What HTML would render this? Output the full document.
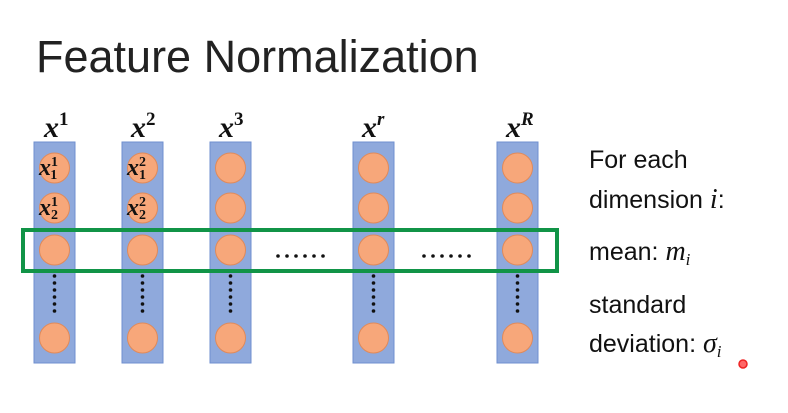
<!DOCTYPE html>
<html><head><meta charset="utf-8"><style>
body{margin:0;width:788px;height:408px;background:#fff;overflow:hidden}
</style></head><body>
<svg width="788" height="408" xmlns="http://www.w3.org/2000/svg">
<defs>
<g id="d" fill="#111"><circle cx="0" cy="276" r="1.8"/><circle cx="0" cy="283" r="1.8"/><circle cx="0" cy="290" r="1.8"/><circle cx="0" cy="297" r="1.8"/><circle cx="0" cy="304" r="1.8"/><circle cx="0" cy="311" r="1.8"/></g>
<g id="h" fill="#111"><circle cx="0" cy="256" r="1.8"/><circle cx="9" cy="256" r="1.8"/><circle cx="18" cy="256" r="1.8"/><circle cx="27" cy="256" r="1.8"/><circle cx="36" cy="256" r="1.8"/><circle cx="45" cy="256" r="1.8"/></g>
</defs>
<text x="36" y="72" font-family="Liberation Sans, sans-serif" font-size="45" fill="#222">Feature Normalization</text>
<g font-family="Liberation Serif, serif" font-style="italic" font-weight="bold" font-size="30" fill="#111">
<text x="44" y="137">x<tspan font-size="19" dy="-12" font-style="normal">1</tspan></text>
<text x="131" y="137">x<tspan font-size="19" dy="-12" font-style="normal">2</tspan></text>
<text x="219" y="137">x<tspan font-size="19" dy="-12" font-style="normal">3</tspan></text>
<text x="362" y="137">x<tspan font-size="19" dy="-12">r</tspan></text>
<text x="506" y="137">x<tspan font-size="19" dy="-12">R</tspan></text>
</g>
<g fill="#8fa9dc" stroke="#6f8fcf" stroke-width="1">
<rect x="34" y="142" width="41" height="221"/>
<rect x="122" y="142" width="41" height="221"/>
<rect x="210" y="142" width="41" height="221"/>
<rect x="353" y="142" width="41" height="221"/>
<rect x="497" y="142" width="41" height="221"/>
</g>
<g fill="#f7a77a" stroke="#e08a5a" stroke-width="1">
<circle cx="54.5" cy="168" r="15"/><circle cx="54.5" cy="208" r="15"/><circle cx="54.5" cy="250" r="15"/><circle cx="54.5" cy="338" r="15"/>
<circle cx="142.5" cy="168" r="15"/><circle cx="142.5" cy="208" r="15"/><circle cx="142.5" cy="250" r="15"/><circle cx="142.5" cy="338" r="15"/>
<circle cx="230.5" cy="168" r="15"/><circle cx="230.5" cy="208" r="15"/><circle cx="230.5" cy="250" r="15"/><circle cx="230.5" cy="338" r="15"/>
<circle cx="373.5" cy="168" r="15"/><circle cx="373.5" cy="208" r="15"/><circle cx="373.5" cy="250" r="15"/><circle cx="373.5" cy="338" r="15"/>
<circle cx="517.5" cy="168" r="15"/><circle cx="517.5" cy="208" r="15"/><circle cx="517.5" cy="250" r="15"/><circle cx="517.5" cy="338" r="15"/>
</g>
<g font-family="Liberation Serif, serif" font-style="italic" font-weight="bold" font-size="24" fill="#111">
<text x="39" y="175">x<tspan font-size="14" dy="-9" font-style="normal">1</tspan><tspan font-size="14" dx="-7" dy="13" font-style="normal">1</tspan></text>
<text x="39" y="215">x<tspan font-size="14" dy="-9" font-style="normal">1</tspan><tspan font-size="14" dx="-7" dy="13" font-style="normal">2</tspan></text>
<text x="127" y="175">x<tspan font-size="14" dy="-9" font-style="normal">2</tspan><tspan font-size="14" dx="-7" dy="13" font-style="normal">1</tspan></text>
<text x="127" y="215">x<tspan font-size="14" dy="-9" font-style="normal">2</tspan><tspan font-size="14" dx="-7" dy="13" font-style="normal">2</tspan></text>
</g>
<use href="#d" x="54.5"/><use href="#d" x="142.5"/><use href="#d" x="230.5"/><use href="#d" x="373.5"/><use href="#d" x="517.5"/>
<use href="#h" x="278"/><use href="#h" x="424"/>
<rect x="23" y="230" width="534" height="41" fill="none" stroke="#119447" stroke-width="4"/>
<g font-family="Liberation Sans, sans-serif" font-size="25" fill="#111">
<text x="589" y="168">For each</text>
<text x="589" y="208">dimension <tspan font-family="Liberation Serif, serif" font-style="italic" font-size="28">i</tspan>:</text>
<text x="589" y="260">mean: <tspan font-family="Liberation Serif, serif" font-style="italic" font-size="28">m<tspan font-size="17" dy="5">i</tspan></tspan></text>
<text x="589" y="313">standard</text>
<text x="589" y="352">deviation: <tspan font-family="Liberation Serif, serif" font-style="italic" font-size="28">σ<tspan font-size="17" dy="5">i</tspan></tspan></text>
</g>
<circle cx="743" cy="364" r="4" fill="#f66" stroke="#e22" stroke-width="1.5"/>
</svg>
</body></html>
